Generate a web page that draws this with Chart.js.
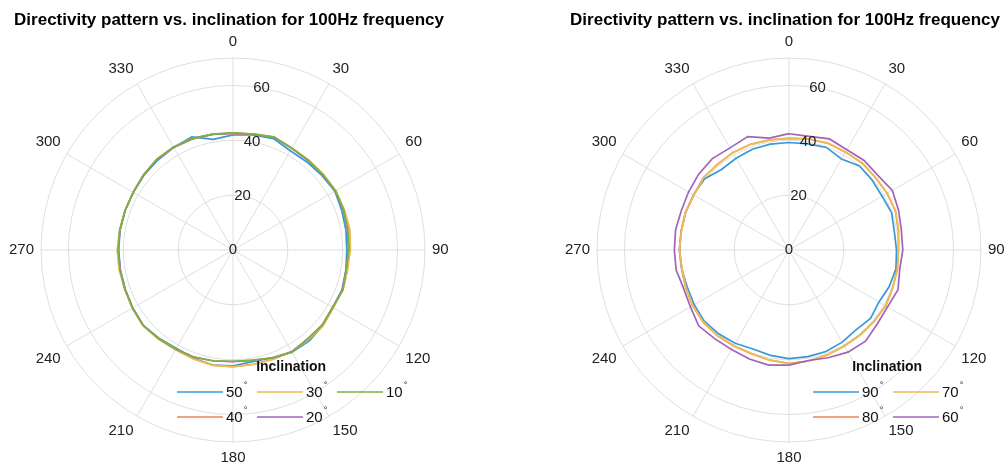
<!DOCTYPE html>
<html>
<head>
<meta charset="utf-8">
<script src="https://cdn.jsdelivr.net/npm/chart.js@4.4.1/dist/chart.umd.min.js"></script>
<style>
  html, body { margin: 0; padding: 0; background: #fff; overflow: hidden; width: 1008px; height: 466px; }
  canvas { position: absolute; top: 0; }
  #left { left: 5px; }
  #right { left: 561px; }
</style>
</head>
<body>
<canvas id="left" width="448" height="474"></canvas>
<canvas id="right" width="448" height="474"></canvas>
<script>
// Azimuth angles (degrees), one sample every 10 degrees
const azimuths = ['0','10','20','30','40','50','60','70','80','90','100','110',
                  '120','130','140','150','160','170','180','190','200','210','220','230',
                  '240','250','260','270','280','290','300','310','320','330','340','350'];

// Radial tick values
const radialTicks = [0, 20, 40, 60];

const chartTitle = 'Directivity pattern vs. inclination for 100Hz frequency';
const legendTitle = 'Inclination';

// Left panel: inclinations 50..10 degrees
const inc50 = [42.0,42.6,43.2,41.8,41.9,42.3,42.9,42.2,41.8,41.5,41.8,42.3,
               42.0,42.8,43.3,43.0,41.8,41.3,42.2,42.6,42.0,41.4,42.0,42.8,
               42.3,41.8,41.7,41.7,41.8,41.9,42.0,42.4,42.7,43.2,43.9,41.0];
const inc40 = [42.5,42.9,43.8,42.9,42.8,42.9,43.2,43.1,43.1,42.6,42.3,42.6,
               42.1,42.8,42.7,42.8,42.4,42.3,42.5,42.6,42.2,41.9,42.3,42.8,
               42.3,41.9,42.0,42.1,41.9,41.9,42.0,42.6,43.1,43.2,43.1,42.8];
const inc30 = [42.6,43.0,43.9,43.0,42.9,43.0,43.3,43.2,43.3,42.8,42.4,42.7,
               42.2,42.9,42.7,42.8,42.5,42.4,42.6,42.7,42.3,42.0,42.4,42.9,
               42.4,42.0,42.1,42.2,42.0,41.9,42.1,42.7,43.2,43.3,43.2,42.9];
const inc20 = [42.6,42.8,43.7,42.8,42.6,42.7,43.0,42.8,42.4,42.1,41.9,42.5,
               41.9,42.5,42.3,42.9,41.9,40.9,40.7,41.1,41.6,41.7,42.1,42.7,
               42.2,41.9,41.8,41.8,41.9,41.9,42.0,42.5,43.1,43.3,43.2,42.8];
const inc10 = [42.7,42.9,43.8,42.9,42.7,42.8,43.1,42.9,42.5,42.2,41.9,42.6,
               41.9,42.5,42.3,43.0,41.8,40.8,40.6,41.0,41.6,41.6,42.1,42.8,
               42.3,41.9,41.8,41.9,41.9,41.9,42.0,42.6,43.2,43.4,43.3,42.9];

// Right panel: inclinations 90..60 degrees
const inc90 = [39.2,39.3,39.8,38.3,40.0,39.6,39.2,39.8,39.0,39.2,39.6,38.9,
               37.9,38.8,38.0,38.8,39.4,39.5,39.6,39.0,38.4,39.3,39.9,40.4,
               39.9,39.5,39.7,39.9,39.9,40.1,40.2,40.3,38.3,38.6,39.1,39.2];
const inc80 = [40.7,41.1,41.4,41.2,41.4,41.1,41.3,41.3,40.5,39.9,40.1,40.2,
               40.7,40.5,40.4,40.4,40.7,41.1,41.3,40.8,40.2,40.4,40.7,40.9,
               40.6,40.1,39.7,40.0,39.9,40.2,40.1,40.9,40.7,41.0,41.0,40.8];
const inc70 = [40.8,41.2,41.5,41.3,41.5,41.2,41.4,41.4,40.6,39.9,40.2,40.3,
               40.8,40.5,40.5,40.4,40.8,41.2,41.4,40.8,40.1,40.3,40.6,40.8,
               40.5,40.0,39.6,40.0,39.8,40.2,40.0,40.8,40.6,41.0,41.0,40.8];
const inc60 = [42.4,42.1,43.1,42.2,42.6,42.3,43.5,42.5,41.6,41.5,41.0,42.3,
               41.5,42.0,43.4,43.0,41.8,40.9,42.0,42.6,42.3,41.9,42.2,43.0,
               41.5,40.9,41.8,41.8,42.0,41.8,42.3,43.0,43.5,43.0,44.0,41.4];

const FONT = "'Liberation Sans', Arial, Helvetica, sans-serif";
const GRID = '#dedede';
const TEXT = '#222';
const COLORS = {
  blue: '#3799d8', orange: '#e9845c', yellow: '#efbd52', purple: '#a065b8', green: '#7ab443'
};

// Radial tick labels along a fixed bearing, plus a column-major legend
const polarDecor = {
  id: 'polarDecor',
  afterDatasetsDraw(chart, args, opts) {
    const ctx = chart.ctx;
    const scale = chart.scales.r;
    const rad = opts.tickAngle * Math.PI / 180;
    ctx.save();
    ctx.font = `15px ${FONT}`;
    ctx.fillStyle = TEXT;
    ctx.textAlign = 'center';
    ctx.textBaseline = 'middle';
    radialTicks.forEach(v => {
      const d = scale.getDistanceFromCenterForValue(v);
      ctx.fillText(String(v), scale.xCenter + d * Math.sin(rad), scale.yCenter - d * Math.cos(rad));
    });

    // legend entries, filled column by column
    const ds = chart.data.datasets;
    const rows = opts.rows;
    let spanEnd = opts.left;
    ds.forEach((d, i) => {
      const col = Math.floor(i / rows);
      const row = i % rows;
      const x0 = opts.left + col * opts.colPitch;
      const y = opts.firstRowY + row * opts.rowGap;
      ctx.strokeStyle = d.borderColor;
      ctx.lineWidth = 1.6;
      ctx.beginPath();
      ctx.moveTo(x0, y);
      ctx.lineTo(x0 + opts.lineLen, y);
      ctx.stroke();
      const num = d.label.replace('\u00b0', '');
      ctx.font = `15px ${FONT}`;
      ctx.fillStyle = '#111';
      ctx.textAlign = 'left';
      ctx.textBaseline = 'middle';
      const tx = x0 + opts.lineLen + 3;
      ctx.fillText(num, tx, y + 1);
      const w = ctx.measureText(num).width;
      ctx.font = `9px ${FONT}`;
      ctx.fillText('\u00b0', tx + w + 1, y - 6);
      const end = tx + w + 1 + ctx.measureText('\u00b0').width;
      if (end > spanEnd) spanEnd = end;
    });
    ctx.font = `bold 14px ${FONT}`;
    ctx.fillStyle = '#111';
    ctx.textAlign = 'center';
    ctx.fillText(legendTitle, (opts.left + spanEnd) / 2 - 1, opts.titleY);
    ctx.restore();
  }
};

function makeChart(id, series, legendOpts) {
  return new Chart(document.getElementById(id), {
    type: 'radar',
    data: {
      labels: azimuths,
      datasets: series.map((s, i) => ({
        label: s.label,
        data: s.data,
        borderColor: s.color,
        backgroundColor: s.color,
        borderWidth: 1.7,
        fill: false,
        pointRadius: 0,
        order: series.length - i
      }))
    },
    options: {
      responsive: false,
      animation: false,
      events: [],
      layout: { padding: 0 },
      plugins: {
        legend: { display: false },
        tooltip: { enabled: false },
        title: {
          display: true,
          text: chartTitle,
          color: '#000',
          font: { family: FONT, size: 17, weight: 'bold' },
          padding: { top: 10, bottom: -4.4 }
        },
        polarDecor: legendOpts
      },
      elements: { line: { tension: 0 } },
      scales: {
        r: {
          min: 0,
          max: 70,
          startAngle: 0,
          grid: { circular: true, color: GRID, lineWidth: 1 },
          angleLines: {
            display: true,
            color: GRID,
            lineWidth: (c) => (c.index % 3 === 0 ? 1 : 0)
          },
          ticks: { display: false, stepSize: 20 },
          pointLabels: {
            display: true,
            padding: 7,
            color: TEXT,
            font: { family: FONT, size: 15 },
            callback: (label, i) => (i % 3 === 0 ? label : '')
          }
        }
      }
    },
    plugins: [polarDecor]
  });
}

makeChart('left', [
  { label: '50\u00b0', data: inc50, color: COLORS.blue },
  { label: '40\u00b0', data: inc40, color: COLORS.orange },
  { label: '30\u00b0', data: inc30, color: COLORS.yellow },
  { label: '20\u00b0', data: inc20, color: COLORS.purple },
  { label: '10\u00b0', data: inc10, color: COLORS.green }
], { tickAngle: 10, rows: 2, left: 172, colPitch: 80, lineLen: 46, firstRowY: 392, rowGap: 25, titleY: 367 });

makeChart('right', [
  { label: '90\u00b0', data: inc90, color: COLORS.blue },
  { label: '80\u00b0', data: inc80, color: COLORS.orange },
  { label: '70\u00b0', data: inc70, color: COLORS.yellow },
  { label: '60\u00b0', data: inc60, color: COLORS.purple }
], { tickAngle: 10, rows: 2, left: 252, colPitch: 80, lineLen: 46, firstRowY: 392, rowGap: 25, titleY: 367 });
</script>
</body>
</html>
